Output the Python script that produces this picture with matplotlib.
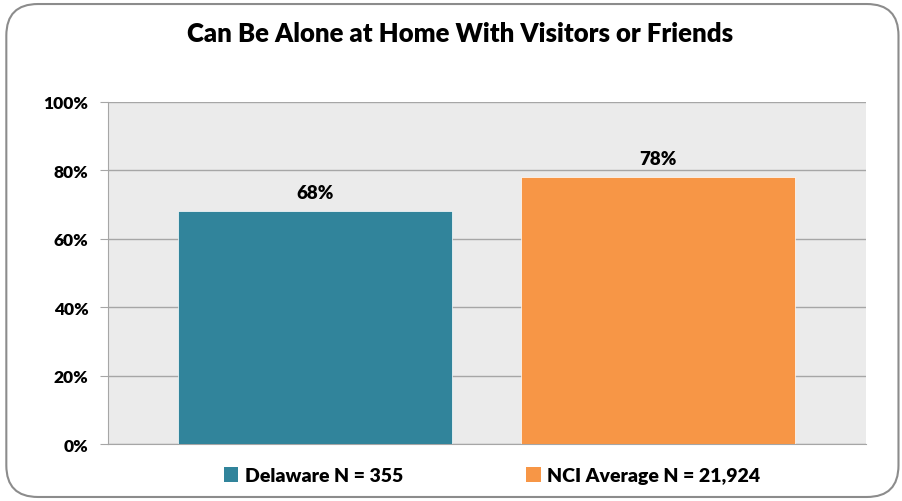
import matplotlib.pyplot as plt
from matplotlib.patches import FancyBboxPatch, Patch
from matplotlib.ticker import PercentFormatter

# data
categories = ['Delaware N = 355', 'NCI Average N = 21,924']
values = [68, 78]
colors = ['#31849B', '#F79646']
title = 'Can Be Alone at Home With Visitors or Friends'

plt.rcParams['font.family'] = ['Lato', 'DejaVu Sans']
plt.rcParams['font.weight'] = 'bold'

fig = plt.figure(figsize=(9.03, 5.02), dpi=100)
ax = fig.add_axes([0.1196, 0.1135, 0.8394, 0.6815])

# rounded frame around the whole chart
frame = FancyBboxPatch((0.007, 0.008), 0.988, 0.982, boxstyle='round,pad=0,rounding_size=0.035',
                       transform=fig.transFigure, fill=False, edgecolor='#8c8c8c', linewidth=1.5,
                       mutation_aspect=903 / 502)
fig.patches.append(frame)

x = list(range(len(values)))
bars = ax.bar(x, values, width=0.8, color=colors, edgecolor='white', linewidth=0.5, zorder=3)
for xi, v in zip(x, values):
    ax.text(xi, v + 3, f'{v}%', ha='center', va='bottom', fontsize=13.5, fontweight='heavy')

ax.set_facecolor('#EBEBEB')
ax.set_xlim(-0.6035, 1.606)
ax.set_ylim(0, 100)
ax.set_yticks(range(0, 101, 20))
ax.yaxis.set_major_formatter(PercentFormatter(decimals=0))
ax.grid(axis='y', color='#a6a6a6', linewidth=1, zorder=0)
ax.set_xticks([])
ax.tick_params(axis='y', length=6, color='#a6a6a6', labelsize=12.5, pad=8)
for lbl in ax.get_yticklabels():
    lbl.set_fontweight('heavy')
for s in ['top', 'right']:
    ax.spines[s].set_visible(False)
ax.spines['left'].set_color('#a6a6a6')
ax.spines['bottom'].set_color('#a6a6a6')

fig.text(0.51, 0.933, title, ha='center', va='center', fontsize=18.5, fontweight='heavy')

handles = [Patch(facecolor=c) for c in colors]
leg = fig.legend(handles, categories, loc='center', bbox_to_anchor=(0.545, 0.05), ncol=2, frameon=False,
                 fontsize=14, handlelength=0.75, handleheight=0.75, handletextpad=0.35, columnspacing=6.3)
for t in leg.get_texts():
    t.set_fontweight('heavy')

fig.savefig('out.png', dpi=100)
